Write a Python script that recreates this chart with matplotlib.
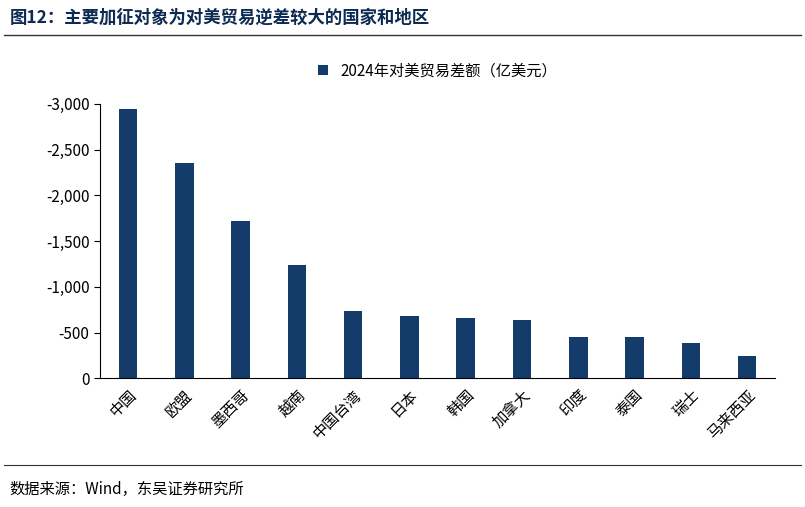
import matplotlib
matplotlib.use("Agg")
import matplotlib.pyplot as plt
from matplotlib.ticker import FuncFormatter

plt.rcParams['font.family'] = ['Noto Sans CJK SC', 'DejaVu Sans']

categories = ["中国", "欧盟", "墨西哥", "越南", "中国台湾", "日本", "韩国", "加拿大", "印度", "泰国", "瑞士", "马来西亚"]
values = [-2950, -2350, -1715, -1235, -740, -685, -660, -635, -455, -455, -385, -245]
series_name = "2024年对美贸易差额（亿美元）"
yticks = [0, -500, -1000, -1500, -2000, -2500, -3000]

fig = plt.figure(figsize=(8.05, 5.07), dpi=100)
ax = fig.add_axes([0.124, 0.254, 0.839, 0.541])
ax.bar(range(len(categories)), values, width=0.33, color='#133C6B', label=series_name)
ax.set_ylim(0, -3000)
ax.set_yticks(yticks)
ax.yaxis.set_major_formatter(FuncFormatter(lambda v, p: f"{int(v):,}"))
ax.set_xlim(-0.5, len(categories) - 0.5)
ax.set_xticks(range(len(categories)))
ax.set_xticklabels(categories, rotation=45, ha='right', rotation_mode='anchor', fontsize=11)
ax.tick_params(axis='x', length=0, pad=6)
ax.tick_params(axis='y', labelsize=11, direction='out', length=4)
for s in ['top', 'right']:
    ax.spines[s].set_visible(False)
ax.legend(loc='lower center', bbox_to_anchor=(0.5, 1.04), frameon=False, fontsize=11,
          handlelength=0.7, handleheight=0.7)

fig.text(0.012, 0.965, "图12：主要加征对象为对美贸易逆差较大的国家和地区", fontsize=12.5,
         fontweight='bold', color='#0D2B52', va='center')
fig.add_artist(plt.Line2D([0.005, 0.995], [0.93, 0.93], color='#333333', lw=1))
fig.add_artist(plt.Line2D([0.005, 0.995], [0.083, 0.083], color='#333333', lw=0.8))
fig.text(0.012, 0.035, "数据来源：Wind，东吴证券研究所", fontsize=11, va='center')

fig.savefig("out.png", dpi=100)
